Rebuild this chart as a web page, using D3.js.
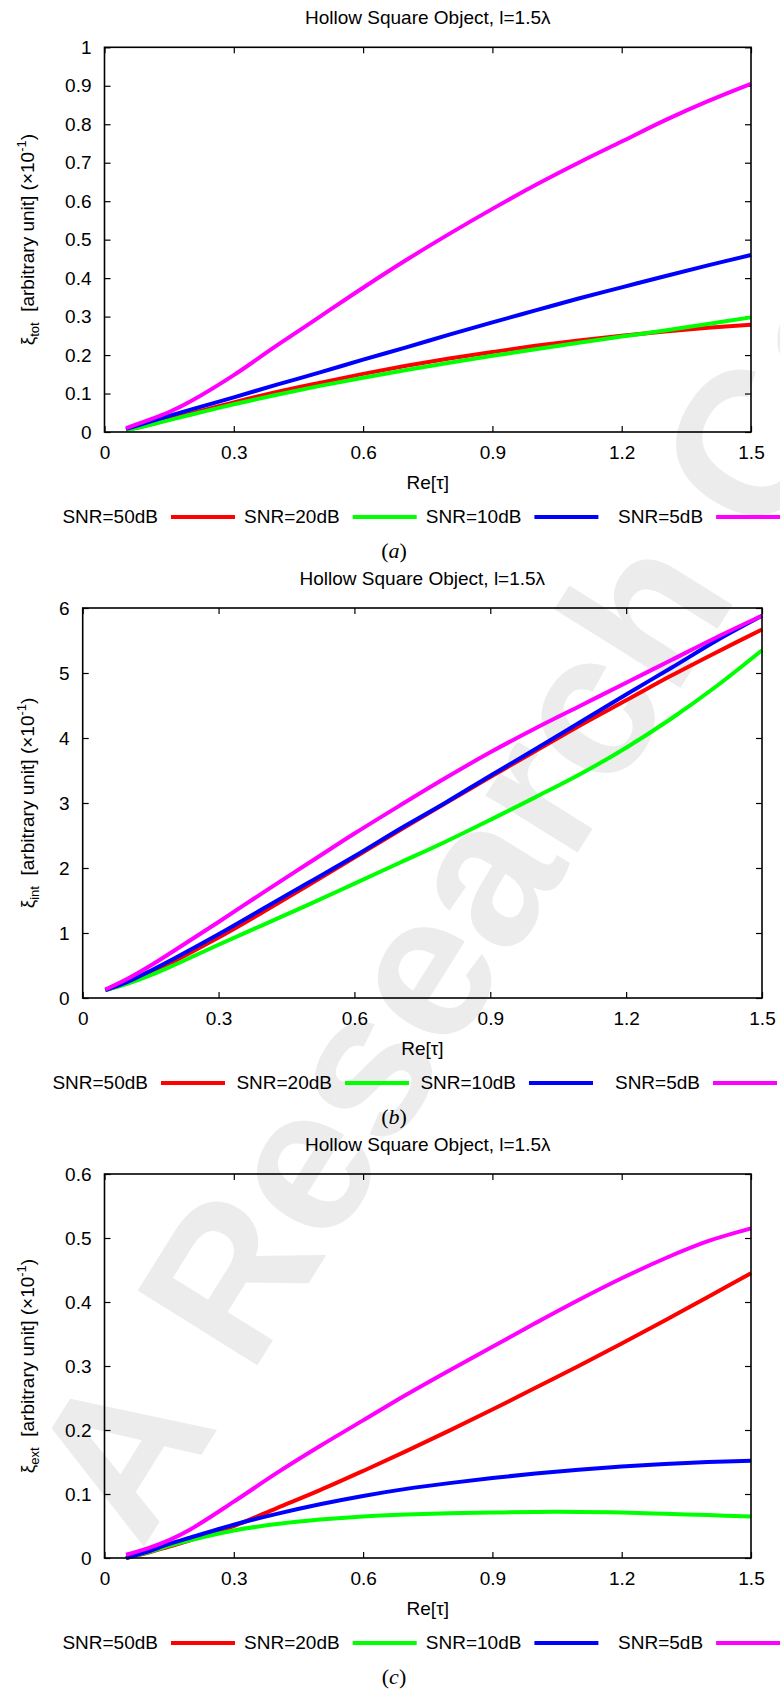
<!DOCTYPE html>
<html><head><meta charset="utf-8">
<script src="https://cdn.jsdelivr.net/npm/d3@7"></script>
<style>
body{margin:0;background:#fff}
svg{display:block}
text{font-family:"Liberation Sans",Arial,sans-serif;}
</style>
</head><body>
<svg id="chart" width="780" height="1693"></svg>
<script>
// ---------- DATA ----------
const titleText = "Hollow Square Object, l=1.5\u03bb";
const xLabelText = "Re[\u03c4]";
const seriesNames = ["SNR=50dB", "SNR=20dB", "SNR=10dB", "SNR=5dB"];
const seriesColors = ["#ff0000", "#00ff00", "#0000ff", "#ff00ff"];
const xValues = [0.05, 0.1, 0.15, 0.2, 0.3, 0.4, 0.5, 0.6, 0.7, 0.8, 0.9, 1.0, 1.1, 1.2, 1.3, 1.4, 1.5];
const xTickValues = [0, 0.3, 0.6, 0.9, 1.2, 1.5];
const xTickLabels = ["0", "0.3", "0.6", "0.9", "1.2", "1.5"];

const totTickValues = [0, 0.1, 0.2, 0.3, 0.4, 0.5, 0.6, 0.7, 0.8, 0.9, 1];
const totTickLabels = ["0", "0.1", "0.2", "0.3", "0.4", "0.5", "0.6", "0.7", "0.8", "0.9", "1"];
const intTickValues = [0, 1, 2, 3, 4, 5, 6];
const intTickLabels = ["0", "1", "2", "3", "4", "5", "6"];
const extTickValues = [0, 0.1, 0.2, 0.3, 0.4, 0.5, 0.6];
const extTickLabels = ["0", "0.1", "0.2", "0.3", "0.4", "0.5", "0.6"];

// (a) xi_tot
const tot50 = [0.005, 0.018, 0.033, 0.048, 0.077, 0.104, 0.128, 0.151, 0.172, 0.191, 0.208, 0.224, 0.238, 0.250, 0.261, 0.271, 0.279];
const tot20 = [0.005, 0.017, 0.031, 0.045, 0.072, 0.097, 0.120, 0.141, 0.161, 0.180, 0.198, 0.215, 0.232, 0.248, 0.264, 0.281, 0.298];
const tot10 = [0.008, 0.025, 0.042, 0.058, 0.090, 0.123, 0.155, 0.188, 0.220, 0.253, 0.285, 0.316, 0.347, 0.376, 0.405, 0.433, 0.460];
const tot5  = [0.010, 0.030, 0.052, 0.080, 0.148, 0.225, 0.300, 0.375, 0.447, 0.515, 0.580, 0.642, 0.700, 0.755, 0.810, 0.860, 0.905];
// (b) xi_int
const int50 = [0.12, 0.24, 0.39, 0.56, 0.93, 1.33, 1.74, 2.16, 2.58, 2.99, 3.40, 3.80, 4.20, 4.58, 4.96, 5.32, 5.67];
const int20 = [0.12, 0.22, 0.35, 0.50, 0.82, 1.13, 1.44, 1.76, 2.08, 2.40, 2.74, 3.09, 3.45, 3.85, 4.30, 4.80, 5.35];
const int10 = [0.12, 0.25, 0.42, 0.60, 0.98, 1.38, 1.78, 2.18, 2.60, 3.00, 3.42, 3.83, 4.25, 4.67, 5.08, 5.50, 5.88];
const int5  = [0.13, 0.30, 0.50, 0.72, 1.17, 1.63, 2.08, 2.53, 2.96, 3.38, 3.78, 4.15, 4.50, 4.85, 5.20, 5.55, 5.88];
// (c) xi_ext
const ext50 = [0.000, 0.008, 0.018, 0.028, 0.050, 0.078, 0.106, 0.136, 0.167, 0.199, 0.232, 0.266, 0.300, 0.335, 0.371, 0.408, 0.445];
const ext20 = [0.000, 0.009, 0.019, 0.028, 0.043, 0.053, 0.060, 0.065, 0.068, 0.070, 0.071, 0.072, 0.072, 0.071, 0.069, 0.067, 0.065];
const ext10 = [0.000, 0.010, 0.022, 0.032, 0.052, 0.069, 0.084, 0.097, 0.108, 0.117, 0.125, 0.132, 0.138, 0.143, 0.147, 0.150, 0.152];
const ext5  = [0.005, 0.015, 0.028, 0.045, 0.088, 0.133, 0.175, 0.215, 0.255, 0.293, 0.330, 0.367, 0.403, 0.437, 0.468, 0.495, 0.515];

// ---------- LAYOUT ----------
const panels = [
  {left:104.5, right:751, top:47.3, bottom:432, yMax:1, ticks:totTickValues, labels:totTickLabels, sub:"tot", cap:"a",
   series:[tot50, tot20, tot10, tot5], legX0:158, legStep:181.7},
  {left:82.7, right:762, top:608, bottom:998, yMax:6, ticks:intTickValues, labels:intTickLabels, sub:"int", cap:"b",
   series:[int50, int20, int10, int5], legX0:148, legStep:184},
  {left:104.5, right:751, top:1174, bottom:1558, yMax:0.6, ticks:extTickValues, labels:extTickLabels, sub:"ext", cap:"c",
   series:[ext50, ext20, ext10, ext5], legX0:158, legStep:181.7}
];

const svg = d3.select("#chart");
const FS = 19;

// watermark
const wm = svg.append("g")
  .attr("transform", "translate(250,1377) rotate(-58)")
  .attr("fill", "#ececec")
  .style("font-size", "205px").style("font-weight", "bold");
wm.append("text").attr("x", 0).attr("y", 0).text("Research Co");
wm.append("text").attr("x", -57).attr("y", 0).attr("text-anchor", "end").text("A");

panels.forEach(p => {
  const x = d3.scaleLinear().domain([0, 1.5]).range([p.left, p.right]);
  const y = d3.scaleLinear().domain([0, p.yMax]).range([p.bottom, p.top]);
  const g = svg.append("g");
  const cx = (p.left + p.right) / 2;

  // title
  g.append("text").attr("x", cx).attr("y", p.top - 23).attr("text-anchor", "middle")
    .style("font-size", FS + "px").text(titleText);

  // axes
  const styleAxis = sel => {
    sel.attr("font-family", null).attr("font-size", null);
    sel.select(".domain").remove();
    sel.selectAll(".tick line").attr("stroke", "#000").attr("stroke-width", 1.2);
    sel.selectAll(".tick text").style("font-size", FS + "px").attr("fill", "#000");
  };
  g.append("g").attr("transform", `translate(0,${p.bottom})`)
    .call(d3.axisBottom(x).tickValues(xTickValues).tickFormat((d, i) => xTickLabels[i]).tickSize(-6).tickPadding(14))
    .call(styleAxis);
  g.append("g").attr("transform", `translate(0,${p.top})`)
    .call(d3.axisTop(x).tickValues(xTickValues).tickFormat("").tickSize(-6))
    .call(styleAxis);
  g.append("g").attr("transform", `translate(${p.left},0)`)
    .call(d3.axisLeft(y).tickValues(p.ticks).tickFormat((d, i) => p.labels[i]).tickSize(-6).tickPadding(13))
    .call(styleAxis);
  g.append("g").attr("transform", `translate(${p.right},0)`)
    .call(d3.axisRight(y).tickValues(p.ticks).tickFormat("").tickSize(-6))
    .call(styleAxis);

  // curves
  const line = d3.line().x((d, i) => x(xValues[i])).y(d => y(d)).curve(d3.curveCatmullRom.alpha(0.5));
  p.series.forEach((s, k) => {
    g.append("path").attr("d", line(s)).attr("fill", "none")
      .attr("stroke", seriesColors[k]).attr("stroke-width", 4).attr("stroke-linejoin", "round");
  });

  // frame
  g.append("rect").attr("x", p.left).attr("y", p.top).attr("width", p.right - p.left).attr("height", p.bottom - p.top)
    .attr("fill", "none").attr("stroke", "#000").attr("stroke-width", 1.6);

  // x label
  g.append("text").attr("x", cx).attr("y", p.bottom + 57).attr("text-anchor", "middle")
    .style("font-size", FS + "px").text(xLabelText);

  // y label
  const yl = g.append("text").attr("transform", `translate(34,${(p.top + p.bottom) / 2}) rotate(-90)`)
    .attr("text-anchor", "middle").style("font-size", FS + "px").style("white-space", "pre");
  yl.append("tspan").text("\u03be");
  yl.append("tspan").attr("dy", 5).style("font-size", "13px").text(p.sub);
  yl.append("tspan").attr("dy", -5).text("  [arbitrary unit] (\u00d710");
  yl.append("tspan").attr("dy", -8).style("font-size", "13px").text("-1");
  yl.append("tspan").attr("dy", 8).text(")");

  // legend
  seriesNames.forEach((name, k) => {
    const tx = p.legX0 + k * p.legStep;
    g.append("text").attr("x", tx).attr("y", p.bottom + 91).attr("text-anchor", "end")
      .style("font-size", FS + "px").text(name);
    g.append("line").attr("x1", tx + 13).attr("x2", tx + 77).attr("y1", p.bottom + 85).attr("y2", p.bottom + 85)
      .attr("stroke", seriesColors[k]).attr("stroke-width", 4);
  });

  // caption
  const cap = g.append("text").attr("x", 394).attr("y", p.bottom + 126).attr("text-anchor", "middle")
    .style("font-family", "'Liberation Serif','Times New Roman',serif").style("font-size", "22px");
  cap.append("tspan").text("(");
  cap.append("tspan").style("font-style", "italic").text(p.cap);
  cap.append("tspan").text(")");
});
</script>
</body></html>
